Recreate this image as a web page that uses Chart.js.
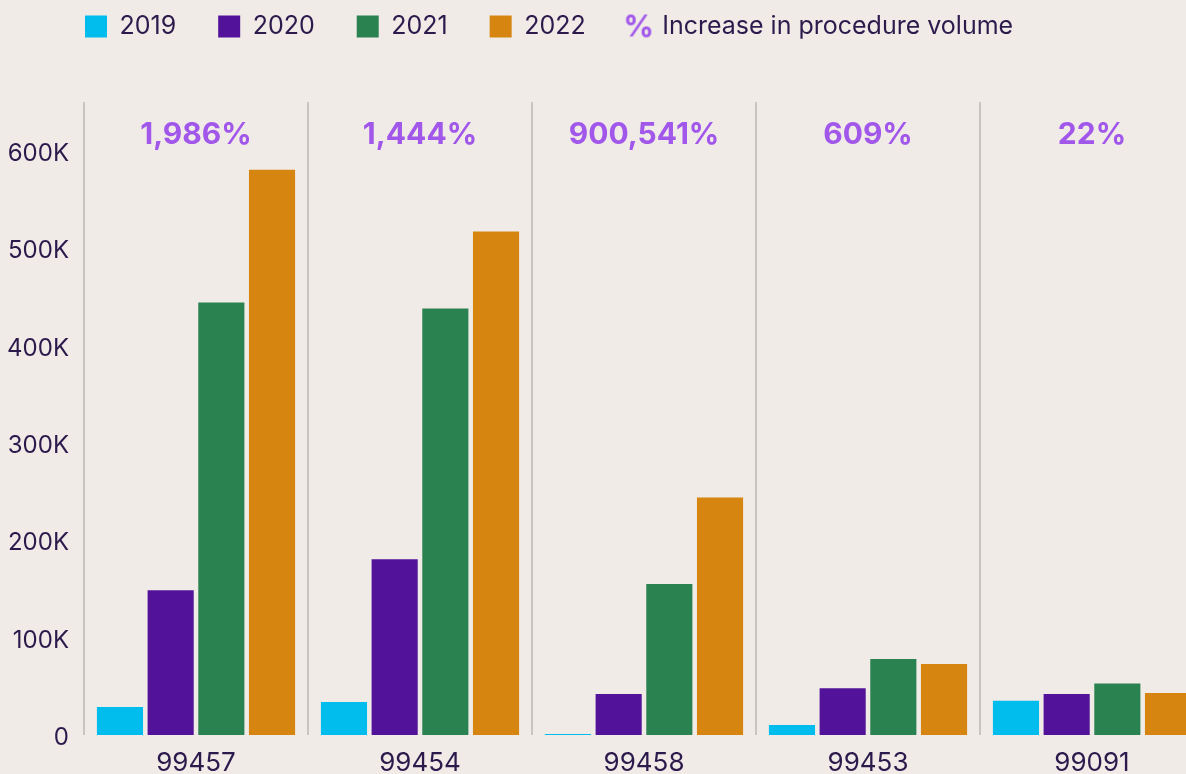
<!DOCTYPE html>
<html>
<head>
<meta charset="utf-8">
<title>Procedure volume by code</title>
<script src="https://cdn.jsdelivr.net/npm/chart.js@4.4.0/dist/chart.umd.min.js"></script>
<style>
    html, body { margin: 0; padding: 0; background: #f0ebe7; overflow: hidden; }
</style>
</head>
<body>
<canvas id="chart" width="1204" height="800"></canvas>
<script>
// data
const codes = ['99457', '99454', '99458', '99453', '99091'];
const years = ['2019', '2020', '2021', '2022'];
const vol2019 = [28700, 33800, 27, 10300, 35200];
const vol2020 = [148700, 180500, 42000, 48000, 42000];
const vol2021 = [444000, 438000, 155000, 78000, 53000];
const vol2022 = [580500, 517000, 244000, 73000, 43000];
const pctIncrease = ['1,986%', '1,444%', '900,541%', '609%', '22%'];
const pctLegendLabel = 'Increase in procedure volume';
const yTickValues = [0, 100000, 200000, 300000, 400000, 500000, 600000];
const yMax = 650000;

const yearColors = ['#00bdee', '#52129a', '#2a8250', '#d68610'];
const textColor = '#2c1a4d';
const pctColor = '#a157ea';

Chart.defaults.font.family = 'Inter, "Open Sans", sans-serif';
Chart.defaults.color = textColor;

// little canvas with a "%" used as the legend marker
const pctMark = document.createElement('canvas');
pctMark.width = 30;
pctMark.height = 28;
{
    const c = pctMark.getContext('2d');
    c.font = '700 30px Inter';
    c.fillStyle = pctColor;
    c.textAlign = 'center';
    c.textBaseline = 'middle';
    c.fillText('%', 15, 15);
}

// fixed legend height, and legend moved right to line up with the plot
const legendPlace = {
    id: 'legendPlace',
    beforeInit(chart) {
        const fit = chart.legend.fit;
        chart.legend.fit = function() {
            fit.bind(chart.legend)();
            this.height = 130;
        };
    },
    afterLayout(chart) {
        chart.legend.left += 43;
    }
};

const pctLabels = {
    id: 'pctLabels',
    afterDatasetsDraw(chart) {
        const { ctx, chartArea, scales: { x } } = chart;
        ctx.save();
        ctx.font = '700 30px Inter';
        ctx.fillStyle = pctColor;
        ctx.textAlign = 'center';
        ctx.textBaseline = 'middle';
        pctIncrease.forEach((t, i) => ctx.fillText(t, x.getPixelForValue(i), chartArea.top + 33));
        ctx.restore();
    }
};

const series = [vol2019, vol2020, vol2021, vol2022];

let myChart = new Chart(document.getElementById('chart'), {
    type: 'bar',
    plugins: [legendPlace, pctLabels],
    data: {
        labels: codes,
        datasets: [
            ...series.map((vals, i) => ({
                label: years[i],
                data: vals,
                backgroundColor: yearColors[i],
                borderWidth: 0,
                pointStyle: 'rect',
                minBarLength: i === 0 ? 1 : 0,
                categoryPercentage: 0.905,
                barPercentage: 0.91,
            })),
            {
                type: 'line',
                label: pctLegendLabel,
                data: [],
                pointStyle: pctMark,
                borderWidth: 0,
            }
        ]
    },
    options: {
        responsive: false,
        animation: false,
        layout: {
            padding: { left: 0, right: 0, top: -28, bottom: 0 }
        },
        plugins: {
            tooltip: { enabled: false },
            legend: {
                position: 'top',
                align: 'start',
                labels: {
                    usePointStyle: true,
                    boxWidth: 22,
                    boxHeight: 22,
                    padding: 42,
                    color: textColor,
                    font: { size: 25 },
                }
            }
        },
        scales: {
            x: {
                grid: {
                    display: true,
                    offset: true,
                    drawTicks: false,
                    color: '#c8c4c0',
                    lineWidth: 2,
                },
                border: { display: false },
                ticks: {
                    color: textColor,
                    font: { size: 26 },
                    padding: 13,
                },
                afterFit: (scale) => { scale.height = 65; },
            },
            y: {
                min: 0,
                max: yMax,
                grid: { display: false },
                border: { display: false },
                afterBuildTicks: (scale) => {
                    scale.ticks = yTickValues.map(v => ({ value: v }));
                },
                ticks: {
                    color: textColor,
                    font: { size: 24 },
                    padding: 7,
                    labelOffset: 3,
                    callback: function(value) {
                        return value === 0 ? '0' : (value / 1000) + 'K';
                    },
                },
                afterFit: (scale) => { scale.width = 84; },
            }
        }
    }
});
</script>
</body>
</html>
